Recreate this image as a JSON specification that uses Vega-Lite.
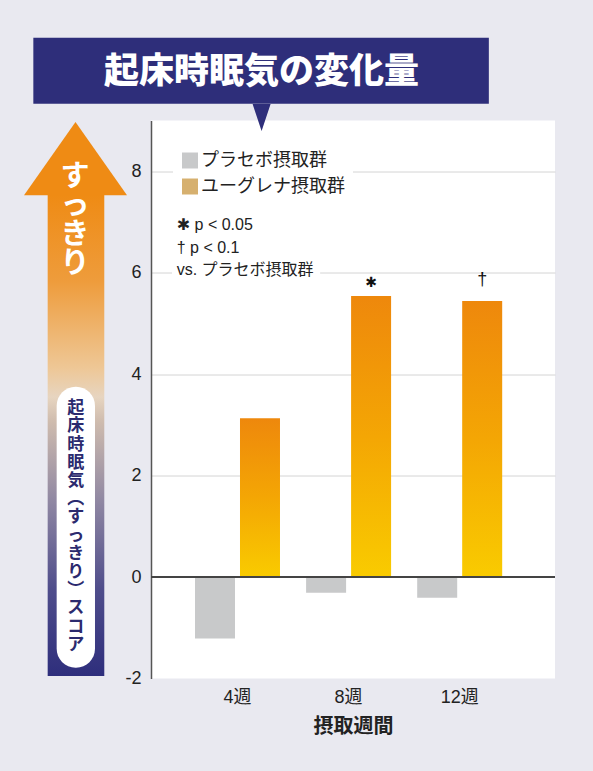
{
  "$schema": "https://vega.github.io/schema/vega-lite/v6.json",
  "width": 404,
  "height": 558,
  "autosize": {"type": "none"},
  "padding": {"left": 151, "top": 120.5, "right": 38, "bottom": 92.5},
  "background": "#e9e9f0",
  "config": {
    "view": {"fill": "white", "stroke": null},
    "font": "Liberation Sans, Noto Sans CJK JP"
  },
  "resolve": {"scale": {"x": "independent"}, "axis": {"x": "independent", "y": "independent"}},
  "layer": [
    {
      "data": {"values": [
        {"week": "4週", "group": "プラセボ摂取群", "value": -1.21, "sig": ""},
        {"week": "8週", "group": "プラセボ摂取群", "value": -0.31, "sig": ""},
        {"week": "12週", "group": "プラセボ摂取群", "value": -0.41, "sig": ""},
        {"week": "4週", "group": "ユーグレナ摂取群", "value": 3.13, "sig": ""},
        {"week": "8週", "group": "ユーグレナ摂取群", "value": 5.54, "sig": "✱"},
        {"week": "12週", "group": "ユーグレナ摂取群", "value": 5.44, "sig": "†"}
      ]},
      "layer": [
        {
          "transform": [{"filter": "datum.group === 'プラセボ摂取群'"}],
          "mark": {"type": "bar"},
          "encoding": {
            "x": {"field": "week", "type": "nominal", "sort": ["4週", "8週", "12週"],
              "scale": {"domain": ["4週", "8週", "12週"], "paddingInner": 0.235, "paddingOuter": 0.4357, "align": 0.4545},
              "axis": {"title": "摂取週間", "domain": false, "ticks": false, "tickSize": 0, "labelAngle": 0, "labelPadding": 10,
                "labelFontSize": 18, "labelFont": "Liberation Sans, Noto Sans CJK JP", "labelColor": "#222",
                "titleFont": "Noto Sans CJK JP", "titleFontSize": 20, "titleFontWeight": "bold", "titleColor": "#222", "titlePadding": 10, "grid": false}},
            "xOffset": {"field": "group", "type": "nominal",
              "scale": {"domain": ["プラセボ摂取群", "ユーグレナ摂取群"], "paddingInner": 0.111, "paddingOuter": 0}},
            "y": {"field": "value", "type": "quantitative",
              "scale": {"domain": [-2, 9], "nice": false, "zero": false},
              "axis": {"title": null, "values": [-2, 0, 2, 4, 6, 8], "labelExpr": "'' + datum.value",
                "ticks": false, "tickSize": 0, "labelPadding": 10, "labelFontSize": 18, "labelFont": "Liberation Sans", "labelColor": "#222",
                "domainColor": "#555", "domainWidth": 1.5, "grid": true, "gridColor": "#d4d4d4", "gridWidth": 1,
                "gridOpacity": {"condition": {"test": "datum.value === -2 || datum.value === 0", "value": 0}, "value": 1}}},
            "color": {"field": "group", "type": "nominal",
              "scale": {"domain": ["プラセボ摂取群", "ユーグレナ摂取群"], "range": ["#c8c9ca", "#d6b06f"]},
              "legend": {"title": null, "orient": "none", "legendX": 22, "legendY": 23, "padding": 8, "fillColor": "white",
                "symbolType": "square", "symbolSize": 256, "symbolStrokeWidth": 0, "symbolOpacity": 1,
                "labelFontSize": 18, "labelFont": "Noto Sans CJK JP", "labelColor": "#222", "labelOffset": 2, "rowPadding": 8, "direction": "vertical"}}
          }
        },
        {
          "transform": [{"filter": "datum.group === 'ユーグレナ摂取群'"}],
          "mark": {"type": "bar", "color": {"gradient": "linear", "x1": 0, "y1": 0, "x2": 0, "y2": 1,
            "stops": [{"offset": 0, "color": "#ee880c"}, {"offset": 0.5, "color": "#f4a604"}, {"offset": 1, "color": "#f9cb00"}]}},
          "encoding": {
            "x": {"field": "week", "type": "nominal", "sort": ["4週", "8週", "12週"]},
            "xOffset": {"field": "group", "type": "nominal",
              "scale": {"domain": ["プラセボ摂取群", "ユーグレナ摂取群"], "paddingInner": 0.111, "paddingOuter": 0}},
            "y": {"field": "value", "type": "quantitative", "scale": {"domain": [-2, 9], "nice": false, "zero": false}}
          }
        },
        {
          "mark": {"type": "rule", "color": "#444", "strokeWidth": 1.5},
          "encoding": {
            "y": {"datum": 0, "type": "quantitative", "scale": {"domain": [-2, 9], "nice": false, "zero": false}}
          }
        },
        {
          "transform": [{"filter": "datum.sig === '✱'"}],
          "mark": {"type": "text", "font": "DejaVu Sans", "fontSize": 14, "color": "#111", "baseline": "middle", "dy": -13},
          "encoding": {
            "x": {"field": "week", "type": "nominal", "sort": ["4週", "8週", "12週"]},
            "xOffset": {"field": "group", "type": "nominal",
              "scale": {"domain": ["プラセボ摂取群", "ユーグレナ摂取群"], "paddingInner": 0.111, "paddingOuter": 0}},
            "y": {"field": "value", "type": "quantitative", "scale": {"domain": [-2, 9], "nice": false, "zero": false}},
            "text": {"field": "sig"}
          }
        },
        {
          "transform": [{"filter": "datum.sig === '†'"}],
          "mark": {"type": "text", "font": "Liberation Sans", "fontSize": 18, "color": "#111", "baseline": "alphabetic", "dy": -16},
          "encoding": {
            "x": {"field": "week", "type": "nominal", "sort": ["4週", "8週", "12週"]},
            "xOffset": {"field": "group", "type": "nominal",
              "scale": {"domain": ["プラセボ摂取群", "ユーグレナ摂取群"], "paddingInner": 0.111, "paddingOuter": 0}},
            "y": {"field": "value", "type": "quantitative", "scale": {"domain": [-2, 9], "nice": false, "zero": false}},
            "text": {"field": "sig"}
          }
        }
      ]
    },
    {
      "data": {"values": [{}]},
      "layer": [
        {
          "mark": {"type": "rect", "color": "#2e2e7a"},
          "encoding": {
            "x": {"datum": -2.33, "type": "quantitative", "scale": {"domain": [0, 8], "nice": false, "zero": false}, "axis": null},
            "x2": {"datum": 6.69},
            "y": {"datum": 10.63, "type": "quantitative", "scale": {"domain": [-2, 9], "nice": false, "zero": false}, "axis": null},
            "y2": {"datum": 9.33}
          }
        },
        {
          "mark": {"type": "point", "shape": "M-1,-1.5L1,-1.5L0,1.5Z", "size": 324, "filled": true, "color": "#2e2e7a", "opacity": 1, "strokeWidth": 0},
          "encoding": {
            "x": {"datum": 2.19, "type": "quantitative", "scale": {"domain": [0, 8], "nice": false, "zero": false}, "axis": null},
            "y": {"datum": 9.06, "type": "quantitative", "scale": {"domain": [-2, 9], "nice": false, "zero": false}, "axis": null}
          }
        },
        {
          "mark": {"type": "text", "text": "起床時眠気の変化量", "font": "Noto Sans CJK JP", "fontWeight": 900, "fontSize": 35, "color": "white", "align": "center", "baseline": "middle"},
          "encoding": {
            "x": {"datum": 2.19, "type": "quantitative", "scale": {"domain": [0, 8], "nice": false, "zero": false}, "axis": null},
            "y": {"datum": 9.96, "type": "quantitative", "scale": {"domain": [-2, 9], "nice": false, "zero": false}, "axis": null}
          }
        },
        {
          "mark": {"type": "rect", "color": {"gradient": "linear", "x1": 0, "y1": 0, "x2": 0, "y2": 1,
            "stops": [
              {"offset": 0, "color": "#ef8b14"},
              {"offset": 0.18, "color": "#ee9c3c"},
              {"offset": 0.36, "color": "#eec796"},
              {"offset": 0.42, "color": "#e7d5c0"},
              {"offset": 0.47, "color": "#cfbcae"},
              {"offset": 0.64, "color": "#8e86a2"},
              {"offset": 0.82, "color": "#4f4d8b"},
              {"offset": 1, "color": "#2e2e7c"}
            ]}},
          "encoding": {
            "x": {"datum": -2.046, "type": "quantitative", "scale": {"domain": [0, 8], "nice": false, "zero": false}, "axis": null},
            "x2": {"datum": -0.925},
            "y": {"datum": 7.53, "type": "quantitative", "scale": {"domain": [-2, 9], "nice": false, "zero": false}, "axis": null},
            "y2": {"datum": -1.95}
          }
        },
        {
          "mark": {"type": "point", "shape": "M0,-0.712L1,0.712L-1,0.712Z", "size": 10609, "filled": true, "color": "#ef8b14", "opacity": 1, "strokeWidth": 0},
          "encoding": {
            "x": {"datum": -1.495, "type": "quantitative", "scale": {"domain": [0, 8], "nice": false, "zero": false}, "axis": null},
            "y": {"datum": 8.25, "type": "quantitative", "scale": {"domain": [-2, 9], "nice": false, "zero": false}, "axis": null}
          }
        },
        {
          "mark": {"type": "text", "text": ["す", "っ", "き", "り"], "font": "Noto Sans CJK JP", "fontWeight": "bold", "fontSize": 29, "lineHeight": 29, "color": "white", "align": "center", "baseline": "middle"},
          "encoding": {
            "x": {"datum": -1.505, "type": "quantitative", "scale": {"domain": [0, 8], "nice": false, "zero": false}, "axis": null},
            "y": {"datum": 7.88, "type": "quantitative", "scale": {"domain": [-2, 9], "nice": false, "zero": false}, "axis": null}
          }
        },
        {
          "mark": {"type": "rect", "color": "white", "cornerRadius": 19},
          "encoding": {
            "x": {"datum": -1.868, "type": "quantitative", "scale": {"domain": [0, 8], "nice": false, "zero": false}, "axis": null},
            "x2": {"datum": -1.109},
            "y": {"datum": 3.75, "type": "quantitative", "scale": {"domain": [-2, 9], "nice": false, "zero": false}, "axis": null},
            "y2": {"datum": -1.787}
          }
        },
        {
          "mark": {"type": "text", "text": ["起", "床", "時", "眠", "気", "︵", "す", "っ", "き", "り", "︶", "ス", "コ", "ア"], "font": "Noto Sans CJK JP", "fontWeight": "bold", "fontSize": 17, "lineHeight": 18.2, "color": "#2b2a6e", "align": "center", "baseline": "middle"},
          "encoding": {
            "x": {"datum": -1.49, "type": "quantitative", "scale": {"domain": [0, 8], "nice": false, "zero": false}, "axis": null},
            "y": {"datum": 3.33, "type": "quantitative", "scale": {"domain": [-2, 9], "nice": false, "zero": false}, "axis": null}
          }
        },
        {
          "mark": {"type": "rect", "color": "white"},
          "encoding": {
            "x": {"datum": 0.416, "type": "quantitative", "scale": {"domain": [0, 8], "nice": false, "zero": false}, "axis": null},
            "x2": {"datum": 3.35},
            "y": {"datum": 6.08, "type": "quantitative", "scale": {"domain": [-2, 9], "nice": false, "zero": false}, "axis": null},
            "y2": {"datum": 5.92}
          }
        },
        {
          "mark": {"type": "text", "text": ["✱ p < 0.05", "† p < 0.1", "vs. プラセボ摂取群"], "font": "Liberation Sans, DejaVu Sans, Noto Sans CJK JP", "fontSize": 16, "lineHeight": 22.5, "color": "#222", "align": "left", "baseline": "middle"},
          "encoding": {
            "x": {"datum": 0.509, "type": "quantitative", "scale": {"domain": [0, 8], "nice": false, "zero": false}, "axis": null},
            "y": {"datum": 6.936, "type": "quantitative", "scale": {"domain": [-2, 9], "nice": false, "zero": false}, "axis": null}
          }
        }
      ]
    }
  ]
}
